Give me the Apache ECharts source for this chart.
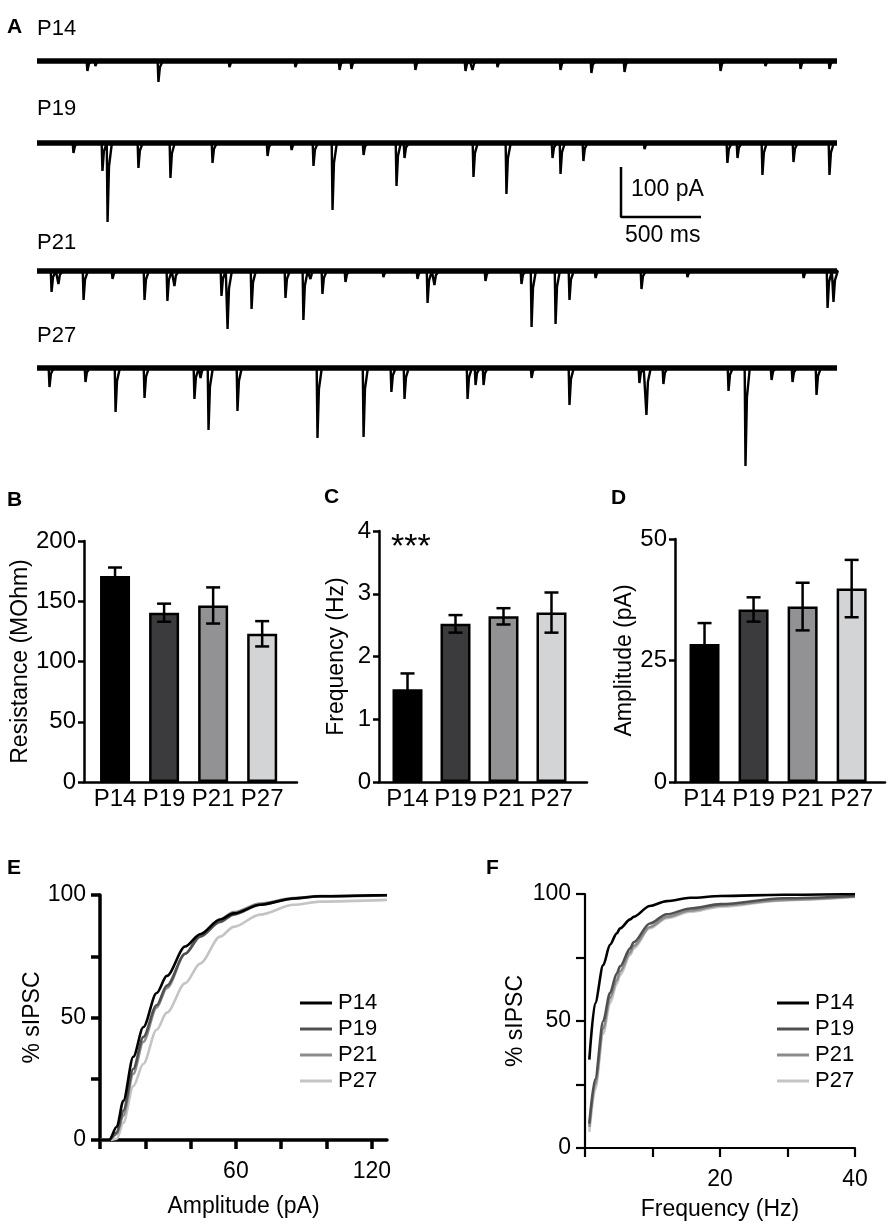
<!DOCTYPE html>
<html>
<head>
<meta charset="utf-8">
<script src="https://cdn.jsdelivr.net/npm/echarts@6/dist/echarts.min.js"></script>
<style>
html,body{margin:0;padding:0;background:#fff}
#main{width:892px;height:1225px}
</style>
</head>
<body>
<div id="main"></div>
<script>
var ages = ['P14', 'P19', 'P21', 'P27'];
var barColors = ['#000000', '#3b3b3d', '#929295', '#d3d4d6'];
var lineColors = ['#000000', '#505050', '#8c8c8c', '#c4c4c4'];

// A: spontaneous IPSCs, [time (ms), amplitude (pA)]
var eventsP14 = [[312,20],[362,10],[756,42],[1200,12],[1612,12],[1888,18],[1962,16],[2362,18],[2675,20],[2719,18],
  [2875,12],[3269,18],[3462,24],[3669,22],[4269,20],[4550,10],[4769,16],[4950,16]];
var eventsP19 = [[225,20],[406,56],[438,158],[631,50],[831,70],[1094,40],[1438,26],[1588,14],[1725,46],[1844,134],
  [2038,24],[2244,86],[2294,30],[2725,68],[2931,102],[3219,30],[3269,62],[3412,36],[3794,12],[4312,40],
  [4375,30],[4531,64],[4725,38],[4950,64]];
var eventsP21 = [[88,42],[131,26],[288,58],[469,16],[669,58],[812,60],[856,30],[1150,50],[1188,116],[1338,76],
  [1550,54],[1662,98],[1706,16],[1781,46],[1925,22],[2162,12],[2375,16],[2438,64],[2481,28],[2800,20],
  [3025,26],[3088,112],[3238,106],[3325,58],[3488,14],[3775,36],[4062,12],[4788,14],[4938,74],[4975,62]];
var eventsP27 = [[75,38],[300,28],[488,88],[669,60],[981,62],[1019,20],[1069,124],[1250,86],[1750,140],[2038,138],
  [2212,48],[2294,62],[2688,62],[2738,34],[2788,34],[3088,20],[3325,74],[3762,30],[3806,94],[3912,32],
  [4319,46],[4425,196],[4588,24],[4719,28],[4869,54]];
var traceEvents = [eventsP14, eventsP19, eventsP21, eventsP27];

// B-D: mean and SEM
var resistance = [171, 140.5, 146.5, 123];
var resistanceErr = [7, 7.5, 15, 10.5];
var frequency = [1.48, 2.52, 2.64, 2.70];
var frequencyErr = [0.25, 0.14, 0.13, 0.32];
var amplitude = [28.4, 35.5, 36.1, 39.8];
var amplitudeErr = [4.3, 2.5, 4.9, 5.9];

// E: cumulative amplitude distribution (%)
var ampX = [0, 4, 7.4, 10.3, 14.7, 19.1, 25, 29.5, 37.6, 44.2, 53, 59, 70.7, 85.4, 97, 126.7];
var ampP14 = [0, 0, 5.4, 16, 34, 46, 60, 67, 79, 84, 90, 92.5, 96, 98.6, 99.5, 100];
var ampP19 = [0, 0, 3, 12, 29, 42, 55, 63, 76, 83, 89, 92, 96, 98.5, 99.5, 99.8];
var ampP21 = [0, 0, 2.5, 10, 27, 40, 54, 62, 76, 84, 90, 93, 96.5, 98.8, 99.6, 100];
var ampP27 = [0, 0, 0.5, 7, 22, 31, 45, 52, 64, 72, 83, 87, 92, 96, 97.3, 98];
var ampCurves = [ampP14, ampP19, ampP21, ampP27];

// F: cumulative frequency distribution (%)
var freqX = [0.64, 1.5, 2.7, 3.7, 4.7, 5.2, 6.7, 7.2, 9.6, 12.1, 15.6, 20.1, 29.4, 40];
var freqP14 = [34.8, 57, 72, 80, 84.5, 86.5, 90, 91, 95.3, 97.2, 98.5, 99.2, 99.7, 100];
var freqP19 = [9.6, 27, 50, 61, 68.7, 71.5, 78.6, 81, 88.4, 92, 94.3, 96, 98.3, 99.2];
var freqP21 = [8.3, 25, 47, 59, 66, 69.5, 77, 79.5, 87, 91, 93.5, 95.5, 97.7, 99];
var freqP27 = [6.3, 23, 45, 57, 64.5, 68, 76, 78.5, 86.5, 90.5, 93, 95, 97.5, 98.8];
var freqCurves = [freqP14, freqP19, freqP21, freqP27];

var FONT = 'Liberation Sans, Arial, sans-serif';
var chart = echarts.init(document.getElementById('main'));

var grids = [], xAxes = [], yAxes = [], series = [];

// ---- panel A
var traceBase = [61, 143, 271, 368];
for (var i = 0; i < 4; i++) {
  grids.push({left: 37, width: 800, top: traceBase[i] - 10, height: 120});
  xAxes.push({gridIndex: i, type: 'value', min: 0, max: 5000, show: false});
  yAxes.push({gridIndex: i, type: 'value', min: -220, max: 20, show: false});
  var d = [[0, 0]];
  traceEvents[i].forEach(function (e) {
    var t = e[0], a = e[1];
    d.push([t - 2, 0], [t + 3, -a], [t + 12, -a * 0.3], [t + 30, 0]);
  });
  d.push([5000, 0]);
  series.push({type: 'line', xAxisIndex: i, yAxisIndex: i, data: [[0, 0], [5000, 0]], symbol: 'none',
    lineStyle: {color: '#000', width: 5.5}, silent: true});
  series.push({type: 'line', xAxisIndex: i, yAxisIndex: i, data: d, symbol: 'none',
    lineStyle: {color: '#000', width: 2.4}, silent: true});
}
// scale bar 100 pA / 500 ms on the P19 axes
series.push({type: 'line', xAxisIndex: 1, yAxisIndex: 1, symbol: 'none',
  data: [[3650, -48], [3650, -148], [4150, -148]], lineStyle: {color: '#000', width: 2.5}});

// ---- panels B, C, D
var barPanels = [
  {left: 84, top: 541, width: 213, height: 241, max: 200, interval: 50, mean: resistance, err: resistanceErr,
    name: 'Resistance (MOhm)', gap: 50, xmin: 0.367, xmax: 4.71},
  {left: 379, top: 531, width: 208, height: 251, max: 4, interval: 1, mean: frequency, err: frequencyErr,
    name: 'Frequency (Hz)', gap: 31, xmin: 0.406, xmax: 4.74},
  {left: 675, top: 539, width: 210, height: 243, max: 50, interval: 25, mean: amplitude, err: amplitudeErr,
    name: 'Amplitude (pA)', gap: 33, xmin: 0.398, xmax: 4.68}
];
barPanels.forEach(function (p, k) {
  var gi = 4 + k;
  grids.push({left: p.left, top: p.top, width: p.width, height: p.height});
  xAxes.push({gridIndex: gi, type: 'value', min: p.xmin, max: p.xmax,
    axisLine: {lineStyle: {color: '#000', width: 2.5}}, axisTick: {show: false}, splitLine: {show: false},
    axisLabel: {customValues: [1, 2, 3, 4], formatter: function (v) { return ages[Math.round(v) - 1]; },
      color: '#000', fontSize: 24, fontFamily: FONT, margin: 5}});
  yAxes.push({gridIndex: gi, type: 'value', min: 0, max: p.max, interval: p.interval,
    axisLine: {show: true, lineStyle: {color: '#000', width: 2.5}},
    axisTick: {show: true, length: 6, lineStyle: {color: '#000', width: 2.5}},
    splitLine: {show: false},
    axisLabel: {color: '#000', fontSize: 24, fontFamily: FONT, margin: 8},
    name: p.name, nameLocation: 'middle', nameGap: p.gap,
    nameTextStyle: {color: '#000', fontSize: 23, fontFamily: FONT}});
  series.push({type: 'bar', xAxisIndex: gi, yAxisIndex: gi, barWidth: 30,
    data: p.mean.map(function (v, j) {
      return {value: [j + 1, v], itemStyle: {color: barColors[j], borderColor: '#000', borderWidth: 2.5}};
    })});
  series.push({type: 'custom', xAxisIndex: gi, yAxisIndex: gi, z: 5,
    data: p.mean.map(function (v, j) { return [j + 1, v, p.err[j]]; }),
    renderItem: function (params, api) {
      var x = api.value(0), y = api.value(1), e = api.value(2);
      var hi = api.coord([x, y + e]), lo = api.coord([x, y - e]);
      var st = {stroke: '#000', lineWidth: 2.5};
      return {type: 'group', children: [
        {type: 'line', shape: {x1: hi[0], y1: hi[1], x2: lo[0], y2: lo[1]}, style: st},
        {type: 'line', shape: {x1: hi[0] - 7, y1: hi[1], x2: hi[0] + 7, y2: hi[1]}, style: st},
        {type: 'line', shape: {x1: lo[0] - 7, y1: lo[1], x2: lo[0] + 7, y2: lo[1]}, style: st}
      ]};
    }});
});

// ---- panels E, F
var cumPanels = [
  {left: 100, top: 895, width: 287, height: 245, xmax: 126.7, xticks: [0, 20, 40, 60, 80, 100, 120],
    xlabels: [60, 120], xs: ampX, curves: ampCurves, xname: 'Amplitude (pA)', axisW: 3.5, ygap: 50, xgap: 55,
    lgLeft: 295},
  {left: 585, top: 894, width: 270, height: 254, xmax: 40, xticks: [0, 10, 20, 30, 40],
    xlabels: [20, 40], xs: freqX, curves: freqCurves, xname: 'Frequency (Hz)', axisW: 2.2, ygap: 58, xgap: 50,
    lgLeft: 772}
];
var legends = [];
cumPanels.forEach(function (p, k) {
  var gi = 7 + k;
  grids.push({left: p.left, top: p.top, width: p.width, height: p.height});
  xAxes.push({gridIndex: gi, type: 'value', min: 0, max: p.xmax,
    axisLine: {lineStyle: {color: '#000', width: p.axisW}},
    axisTick: {customValues: p.xticks, length: 9, lineStyle: {color: '#000', width: p.axisW}},
    axisLabel: {customValues: p.xlabels, color: '#000', fontSize: 23, fontFamily: FONT, margin: 20},
    splitLine: {show: false},
    name: p.xname, nameLocation: 'middle', nameGap: p.xgap,
    nameTextStyle: {color: '#000', fontSize: 23, fontFamily: FONT}});
  yAxes.push({gridIndex: gi, type: 'value', min: 0, max: 100,
    axisLine: {show: true, lineStyle: {color: '#000', width: p.axisW}},
    axisTick: {show: true, customValues: [0, 25, 50, 75, 100], length: 9, lineStyle: {color: '#000', width: p.axisW}},
    axisLabel: {customValues: [0, 50, 100], color: '#000', fontSize: 23, fontFamily: FONT, margin: 14},
    splitLine: {show: false},
    name: '% sIPSC', nameLocation: 'middle', nameGap: p.ygap,
    nameTextStyle: {color: '#000', fontSize: 23, fontFamily: FONT}});
  p.curves.forEach(function (c, j) {
    series.push({type: 'line', name: ages[j], xAxisIndex: gi, yAxisIndex: gi, symbol: 'none',
      smooth: 0.3, smoothMonotone: 'x', z: 10 - j,
      data: p.xs.map(function (x, n) { return [x, c[n]]; }),
      lineStyle: {color: lineColors[j], width: 2.6}, itemStyle: {color: lineColors[j]}});
  });
  legends.push({orient: 'vertical', left: p.lgLeft, top: 987, icon: 'rect', itemWidth: 32, itemHeight: 3,
    itemGap: 4, data: ages, selectedMode: false,
    textStyle: {color: '#000', fontSize: 22, fontFamily: FONT, lineHeight: 21, padding: [0, 0, 0, 1]}});
});

function label(txt, x, y, size, bold, align) {
  return {type: 'text', left: x, top: y, style: {text: txt, fill: '#000', fontSize: size,
    fontFamily: FONT, fontWeight: bold ? 'bold' : 'normal', textAlign: align || 'left'}};
}
var graphics = [
  label('A', 7, 17, 21, true), label('B', 7, 490, 21, true), label('C', 324, 487, 21, true),
  label('D', 611, 488, 21, true), label('E', 7, 858, 21, true), label('F', 486, 858, 21, true),
  label('P14', 37, 18, 22), label('P19', 37, 98, 22), label('P21', 37, 232, 22), label('P27', 37, 325, 22),
  label('100 pA', 631, 178, 23), label('500 ms', 625, 224, 23),
  label('***', 391, 531, 34)
];

chart.setOption({
  animation: false,
  grid: grids,
  xAxis: xAxes,
  yAxis: yAxes,
  legend: legends,
  graphic: graphics,
  series: series
});
</script>
</body>
</html>
